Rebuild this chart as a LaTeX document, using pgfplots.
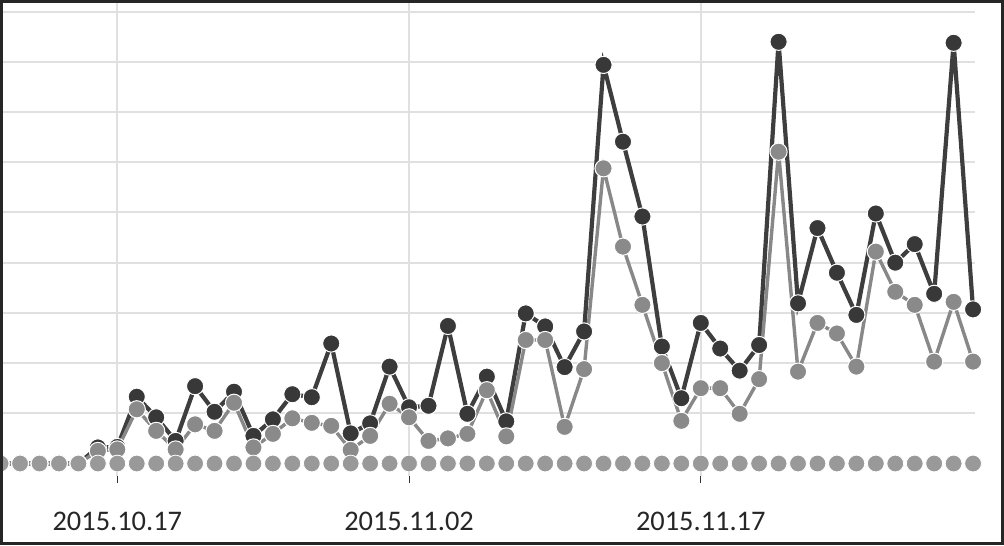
\documentclass[border=0pt]{standalone}
\usepackage{fontspec}
\setmainfont{Carlito}
\usepackage{pgfplots}
\pgfplotsset{compat=1.18}
\usepackage{pgfplotstable}
\definecolor{darkS}{HTML}{383838}
\definecolor{darkL}{HTML}{3E3E3E}
\definecolor{lightS}{HTML}{8A8A8A}
\definecolor{lightL}{HTML}{888888}
\definecolor{zeroS}{HTML}{999999}
\definecolor{gridc}{HTML}{E0E0E0}
\pgfplotstableread{
i D L Z
0 0 0 0
1 0 0 0
2 0 0 0
3 0 0 0
4 0 0 0
5 3.2 2.5 0
6 3.3 2.8 0
7 13.3 10.8 0
8 9.2 6.5 0
9 4.5 2.8 0
10 15.4 7.8 0
11 10.3 6.5 0
12 14.3 12.1 0
13 5.5 3.2 0
14 8.8 5.9 0
15 13.8 9.0 0
16 13.2 8.1 0
17 23.9 7.5 0
18 6.0 2.7 0
19 8.0 5.5 0
20 19.3 11.9 0
21 11.2 9.2 0
22 11.5 4.5 0
23 27.4 5.0 0
24 9.9 5.9 0
25 17.3 14.6 0
26 8.4 5.4 0
27 29.9 24.6 0
28 27.3 24.6 0
29 19.2 7.3 0
30 26.3 18.8 0
31 79.4 58.8 0
32 64.1 43.2 0
33 49.2 31.6 0
34 23.3 20.0 0
35 13.0 8.5 0
36 28.0 15.0 0
37 22.9 15.0 0
38 18.5 9.9 0
39 23.6 16.8 0
40 84.0 62.1 0
41 31.9 18.3 0
42 46.9 28.0 0
43 38.0 25.9 0
44 29.6 19.3 0
45 49.8 42.2 0
46 40.0 34.2 0
47 43.7 31.6 0
48 33.8 20.3 0
49 83.8 32.2 0
50 30.7 20.3 0
}\datatable
\begin{document}
\begin{tikzpicture}
\useasboundingbox (0,0) rectangle (502pt,272.5pt);
\begin{scope}
\clip (1.5pt,1.5pt) rectangle (500.5pt,271pt);
\begin{axis}[
  at={(1.5pt,34.5pt)}, anchor=south west,
  scale only axis, width=486pt, height=236.5pt,
  xmin=0.123, xmax=50.1, ymin=-2.49, ymax=91.73,
  clip=false,
  axis line style={draw=none},
  xtick={6,21,36},
  xticklabels={2015.10.17,2015.11.02,2015.11.17},
  xtick pos=lower,
  tick align=outside,
  major tick length=3.5pt,
  xtick style={color=black!80, line width=0.5pt},
  ytick={10,20,...,90},
  yticklabels={},
  ytick style={draw=none},
  xmajorgrids, ymajorgrids,
  grid style={color=gridc, line width=1pt},
  xticklabel style={font=\fontsize{14.2}{16}\selectfont, color=black!85, anchor=base, yshift=-23.5pt},
]
\addplot[darkL, line width=2.1pt, mark=*, mark size=4.3pt,
  mark options={fill=darkS, draw=white, line width=0.5pt}] table[x=i,y=D]{\datatable};
\addplot[lightL, line width=1.7pt, mark=*, mark size=4.3pt,
  mark options={fill=lightS, draw=white, line width=0.5pt}] table[x=i,y=L]{\datatable};
\addplot[draw=none, mark=*, mark size=4.2pt,
  mark options={fill=zeroS, draw=white, line width=0.4pt}] table[x=i,y=Z]{\datatable};
\end{axis}
\end{scope}
\draw[black!85, line width=1.5pt] (0.75pt,0.75pt) rectangle (501.25pt,271.75pt);
\end{tikzpicture}
\end{document}
